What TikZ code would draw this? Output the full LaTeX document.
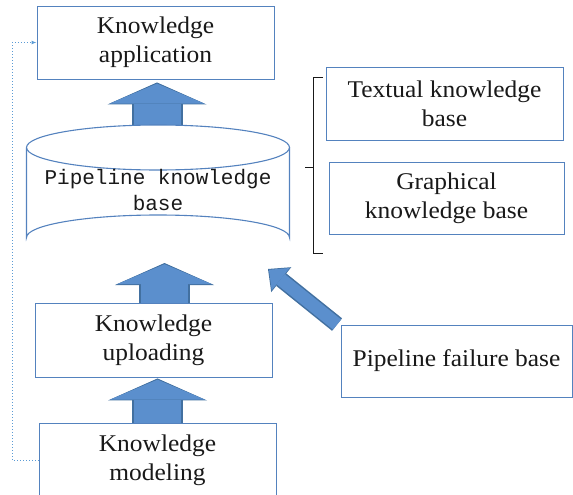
\documentclass[tikz,border=0pt]{standalone}
\usepackage{fontspec}
\setmainfont{Liberation Serif}[FakeStretch=1.06]
\newfontfamily\kbmono{Liberation Mono}
\usetikzlibrary{arrows.meta,calc,backgrounds}
\definecolor{boxblue}{RGB}{84,130,190}
\definecolor{afill}{RGB}{91,143,205}
\definecolor{aline}{RGB}{66,112,160}
\definecolor{dotblue}{RGB}{91,155,213}
\definecolor{txt}{RGB}{25,25,25}
\begin{document}
\begin{tikzpicture}[x=1pt,y=-1pt,
  box/.style={draw=boxblue,line width=0.9pt,fill=white,align=center,text=txt,
    font=\fontsize{24}{29}\selectfont,inner sep=0pt},
  cyl/.style={draw=boxblue,line width=1.1pt},
  upout/.style={line width=51pt,draw=aline,-{Triangle[width=99pt,length=22pt,line width=0pt]}},
  upin/.style={line width=47pt,draw=afill,shorten >=1.2pt,-{Triangle[width=95pt,length=20pt,line width=0pt]}},
  dgout/.style={line width=16pt,draw=aline,-{Triangle[width=32pt,length=17pt,line width=0pt]}},
  dgin/.style={line width=13pt,draw=afill,shorten >=1.2pt,-{Triangle[width=28.5pt,length=15pt,line width=0pt]}},
  brk/.style={draw=txt,line width=0.8pt},
  dotl/.style={draw=dotblue,line width=1pt,dotted,-{Latex[length=5pt,width=4pt]}}]
\useasboundingbox (0,0) rectangle (573,495);
% boxes
\node[box,minimum width=237pt,minimum height=73pt] (app) at (155.5,42.5) {Knowledge\\application};
\node[box,minimum width=237pt,minimum height=74pt] (up) at (153.5,340) {Knowledge\\uploading};
\node[box,minimum width=237pt,minimum height=74pt] (mod) at (157.5,460) {Knowledge\\modeling};
\node[box,minimum width=237pt,minimum height=73pt] (tex) at (444.5,103.5) {Textual knowledge\\base};
\node[box,minimum width=235pt,minimum height=72pt] (gra) at (446.5,198) {Graphical\\knowledge base};
\node[box,minimum width=231pt,minimum height=72pt] (fail) at (456.5,361) {Pipeline failure base};
% cylinder
\draw[cyl] (158,147.5) ellipse [x radius=131.5, y radius=22.5];
\draw[cyl] (26.5,147.5) -- (26.5,237.5) arc[start angle=180,end angle=360,x radius=131.5,y radius=22.5] -- (289.5,147.5);
\node[text=txt,align=center,font=\kbmono\fontsize{21}{26}\selectfont,inner sep=0pt] (kb) at (158,190) {Pipeline knowledge\\base};
\coordinate (kbtop) at (157,125);
\coordinate (kbbot) at (164.5,260);
\coordinate (kbside) at (268,269);
% bracket
\coordinate (b1) at (323,77);
\coordinate (b2) at (323,253);
\draw[brk] (b1) -- (313,77) -- (313,253) -- (b2);
\draw[brk] (313,167) -- (305,167);
% arrows
\begin{scope}[on background layer]
\draw[upout] (kbtop) -- ([yshift=-3pt]kbtop |- app.south);
\draw[upin] (kbtop) -- ([yshift=-3pt]kbtop |- app.south);
\draw[upout] (kbbot |- up.north) -- ([yshift=-3pt]kbbot);
\draw[upin] (kbbot |- up.north) -- ([yshift=-3pt]kbbot);
\draw[upout] (mod.north) -- ([yshift=-1pt]mod.north |- up.south);
\draw[upin] (mod.north) -- ([yshift=-1pt]mod.north |- up.south);
\draw[dgout] ($(fail.north west)+(-3.5,0)$) -- (kbside);
\draw[dgin] ($(fail.north west)+(-3.5,0)$) -- (kbside);
\end{scope}
% dotted feedback
\draw[dotl] (mod.west) -- (12,460) |- (app.west);
\end{tikzpicture}
\end{document}
